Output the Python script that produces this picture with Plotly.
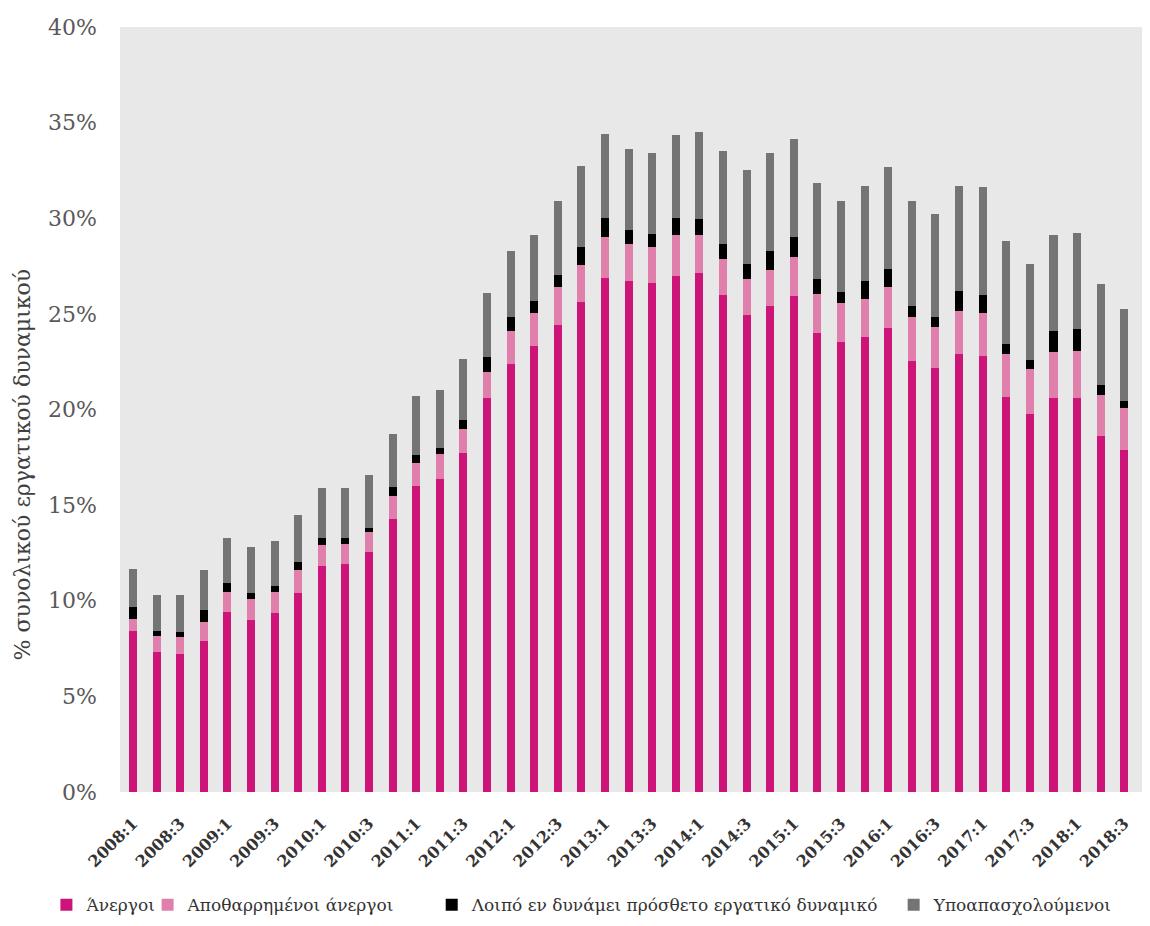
import plotly.graph_objects as go

quarters = [f"{y}:{q}" for y in range(2008, 2019) for q in range(1, 5)]

unemployed = [8.4, 7.3, 7.2, 7.9, 9.4, 9.0, 9.35, 10.4, 11.8, 11.9, 12.55, 14.3,
              16.0, 16.35, 17.7, 20.6, 22.4, 23.3, 24.4, 25.6, 26.9, 26.7, 26.6, 27.0,
              27.15, 26.0, 24.95, 25.4, 25.95, 24.0, 23.55, 23.8, 24.25, 22.55, 22.15, 22.9,
              22.8, 20.65, 19.75, 20.6, 20.6, 18.6, 17.9, 17.9]
discouraged = [0.65, 0.88, 0.91, 1.0, 1.05, 1.11, 1.11, 1.19, 1.14, 1.08, 1.02, 1.17,
               1.2, 1.34, 1.26, 1.35, 1.69, 1.75, 1.98, 1.96, 2.1, 1.93, 1.88, 2.1,
               1.95, 1.89, 1.87, 1.89, 2.01, 2.06, 2.03, 1.98, 2.15, 2.28, 2.15, 2.27,
               2.22, 2.23, 2.37, 2.39, 2.44, 2.17, 2.16, 2.1]
other_potential = [0.62, 0.26, 0.26, 0.61, 0.49, 0.32, 0.33, 0.42, 0.35, 0.32, 0.26, 0.46,
                   0.44, 0.32, 0.47, 0.78, 0.76, 0.61, 0.64, 0.93, 1.01, 0.75, 0.69, 0.93,
                   0.88, 0.79, 0.79, 1.0, 1.08, 0.78, 0.56, 0.96, 0.94, 0.6, 0.56, 1.05,
                   0.96, 0.53, 0.47, 1.1, 1.17, 0.51, 0.4, 0.35]
underemployed = [2.01, 1.88, 1.92, 2.1, 2.36, 2.36, 2.32, 2.5, 2.62, 2.62, 2.76, 2.79,
                 3.06, 3.02, 3.2, 3.38, 3.44, 3.49, 3.87, 4.22, 4.4, 4.24, 4.23, 4.31,
                 4.54, 4.84, 4.93, 5.12, 5.12, 4.98, 4.77, 4.94, 5.32, 5.48, 5.38, 5.47,
                 5.64, 5.38, 5.03, 5.01, 5.02, 5.26, 4.8, 4.9]

series = [
    ("Άνεργοι", unemployed, "#cd1478", "legend", -0.072),
    ("Αποθαρρημένοι άνεργοι", discouraged, "#e07fac", "legend2", 0.027),
    ("Λοιπό εν δυνάμει πρόσθετο εργατικό δυναμικό", other_potential, "#000000", "legend3", 0.305),
    ("Υποαπασχολούμενοι", underemployed, "#747474", "legend4", 0.757),
]

SERIF = "DejaVu Serif"

fig = go.Figure()
for name, values, color, legend_id, _ in series:
    fig.add_trace(go.Bar(
        x=quarters, y=values, name=name, legend=legend_id,
        marker=dict(color=color, line=dict(width=0)),
    ))

legend_common = dict(orientation="h", y=-0.148, yanchor="middle", xanchor="left",
                     bgcolor="rgba(0,0,0,0)", font=dict(family=SERIF, size=17, color="#333333"))
legends = {}
for _, _, _, legend_id, lx in series:
    legends[legend_id] = dict(legend_common, x=lx)

# page body keeps its 8px margin, so size the figure to avoid scrollbars
fig.update_layout(
    width=1134, height=910,
    margin=dict(l=112, r=0, t=19, b=126, autoexpand=False),
    barmode="stack", bargap=0.66,
    plot_bgcolor="#e8e8e8", paper_bgcolor="white",
    font=dict(family=SERIF, color="#404040"),
    showlegend=True,
    **legends,
)

fig.update_xaxes(
    type="category", range=[-0.55, 42.75], automargin=False,
    tickmode="array", tickvals=quarters[::2], ticktext=quarters[::2],
    tickangle=-45, tickfont=dict(family=SERIF, size=16, color="#333333", weight="bold"),
    showgrid=False, showline=False, ticks="", ticklabelstandoff=18,
)
fig.update_yaxes(
    range=[0, 40], dtick=5, ticksuffix="%", showgrid=False, zeroline=False,
    automargin=False,
    tickfont=dict(family=SERIF, size=22, color="#595959"),
    ticks="", ticklabelstandoff=22,
)

fig.add_annotation(
    text="% συνολικού εργατικού δυναμικού", textangle=-90,
    xref="paper", yref="paper", x=-0.0945, y=0.4275,
    xanchor="center", yanchor="middle", showarrow=False,
    font=dict(family=SERIF, size=22, color="#404040"),
)

fig.write_html("out.html")
